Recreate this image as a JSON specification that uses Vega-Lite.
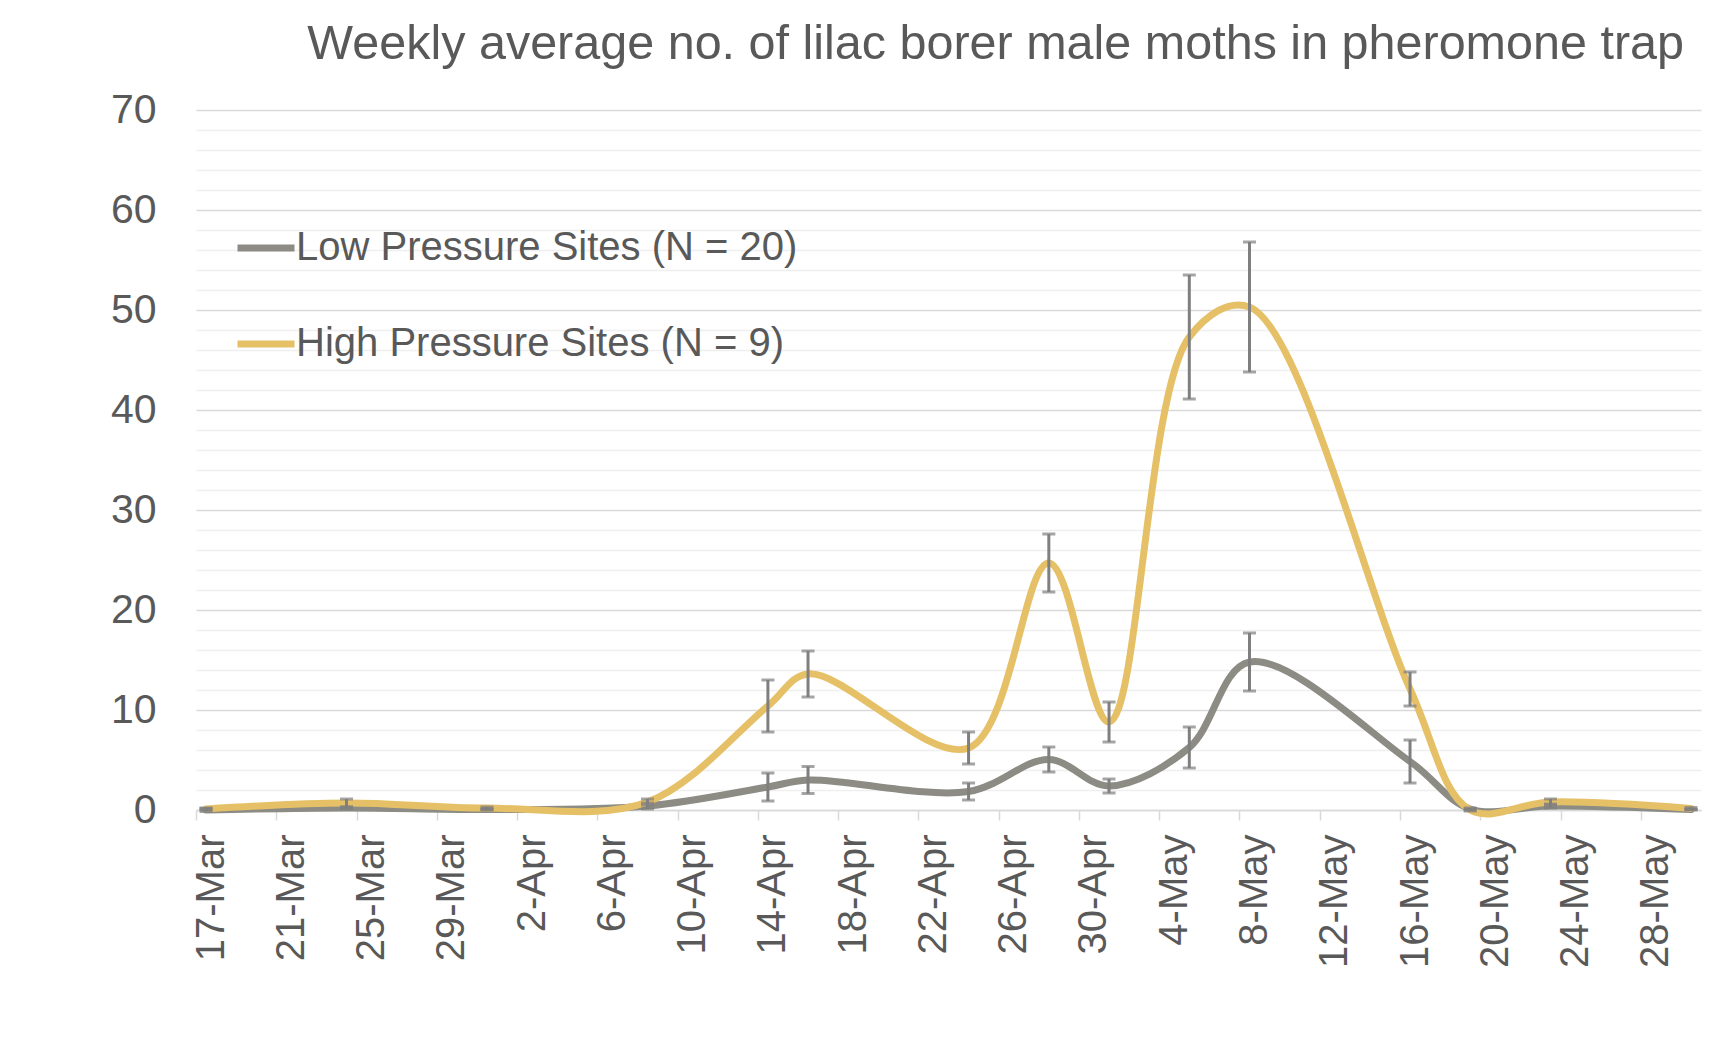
{
  "$schema": "https://vega.github.io/schema/vega-lite/v6.json",
  "autosize": {"type": "none"},
  "width": 1505,
  "height": 700,
  "padding": {"left": 196, "top": 110, "right": 30, "bottom": 228},
  "background": "white",
  "title": {
    "text": "Weekly average no. of lilac borer male moths in pheromone trap",
    "anchor": "end",
    "frame": "group",
    "orient": "top",
    "font": "Liberation Sans",
    "fontSize": 48.5,
    "fontWeight": "normal",
    "color": "#595959",
    "offset": 20,
    "dx": -17
  },
  "config": {
    "view": {"stroke": null},
    "font": "Liberation Sans"
  },
  "data": {
    "values": [
      {"date": "2021-03-17T12:00:00", "series": "Low Pressure Sites (N = 20)", "mean": 0.0, "se": 0.15},
      {"date": "2021-03-24T12:00:00", "series": "Low Pressure Sites (N = 20)", "mean": 0.2, "se": 0.1},
      {"date": "2021-03-31T12:00:00", "series": "Low Pressure Sites (N = 20)", "mean": 0.05, "se": 0.05},
      {"date": "2021-04-08T12:00:00", "series": "Low Pressure Sites (N = 20)", "mean": 0.4, "se": 0.3},
      {"date": "2021-04-14T12:00:00", "series": "Low Pressure Sites (N = 20)", "mean": 2.3, "se": 1.4},
      {"date": "2021-04-16T12:00:00", "series": "Low Pressure Sites (N = 20)", "mean": 3.0, "se": 1.35},
      {"date": "2021-04-24T12:00:00", "series": "Low Pressure Sites (N = 20)", "mean": 1.85, "se": 0.85},
      {"date": "2021-04-28T12:00:00", "series": "Low Pressure Sites (N = 20)", "mean": 5.05, "se": 1.25},
      {"date": "2021-05-01T12:00:00", "series": "Low Pressure Sites (N = 20)", "mean": 2.4, "se": 0.7},
      {"date": "2021-05-05T12:00:00", "series": "Low Pressure Sites (N = 20)", "mean": 6.25, "se": 2.05},
      {"date": "2021-05-08T12:00:00", "series": "Low Pressure Sites (N = 20)", "mean": 14.8, "se": 2.9},
      {"date": "2021-05-16T12:00:00", "series": "Low Pressure Sites (N = 20)", "mean": 4.85, "se": 2.15},
      {"date": "2021-05-19T12:00:00", "series": "Low Pressure Sites (N = 20)", "mean": 0.1, "se": 0.1},
      {"date": "2021-05-23T12:00:00", "series": "Low Pressure Sites (N = 20)", "mean": 0.4, "se": 0.2},
      {"date": "2021-05-30T12:00:00", "series": "Low Pressure Sites (N = 20)", "mean": 0.05, "se": 0.05},
      {"date": "2021-03-17T12:00:00", "series": "High Pressure Sites (N = 9)", "mean": 0.1, "se": 0.1},
      {"date": "2021-03-24T12:00:00", "series": "High Pressure Sites (N = 9)", "mean": 0.7, "se": 0.4},
      {"date": "2021-03-31T12:00:00", "series": "High Pressure Sites (N = 9)", "mean": 0.2, "se": 0.1},
      {"date": "2021-04-08T12:00:00", "series": "High Pressure Sites (N = 9)", "mean": 0.8, "se": 0.3},
      {"date": "2021-04-14T12:00:00", "series": "High Pressure Sites (N = 9)", "mean": 10.4, "se": 2.6},
      {"date": "2021-04-16T12:00:00", "series": "High Pressure Sites (N = 9)", "mean": 13.6, "se": 2.3},
      {"date": "2021-04-24T12:00:00", "series": "High Pressure Sites (N = 9)", "mean": 6.2, "se": 1.6},
      {"date": "2021-04-28T12:00:00", "series": "High Pressure Sites (N = 9)", "mean": 24.7, "se": 2.9},
      {"date": "2021-05-01T12:00:00", "series": "High Pressure Sites (N = 9)", "mean": 8.8, "se": 2.0},
      {"date": "2021-05-05T12:00:00", "series": "High Pressure Sites (N = 9)", "mean": 47.3, "se": 6.2},
      {"date": "2021-05-08T12:00:00", "series": "High Pressure Sites (N = 9)", "mean": 50.3, "se": 6.5},
      {"date": "2021-05-16T12:00:00", "series": "High Pressure Sites (N = 9)", "mean": 12.1, "se": 1.7},
      {"date": "2021-05-19T12:00:00", "series": "High Pressure Sites (N = 9)", "mean": 0.0, "se": 0.1},
      {"date": "2021-05-23T12:00:00", "series": "High Pressure Sites (N = 9)", "mean": 0.8, "se": 0.3},
      {"date": "2021-05-30T12:00:00", "series": "High Pressure Sites (N = 9)", "mean": 0.15, "se": 0.1}
    ]
  },
  "resolve": {"axis": {"y": "independent"}},
  "layer": [
    {
      "mark": {"type": "line", "interpolate": "catmull-rom", "strokeWidth": 7, "strokeCap": "round", "strokeJoin": "round"},
      "encoding": {
        "x": {
          "field": "date",
          "type": "temporal",
          "scale": {"domain": [{"year": 2021, "month": "mar", "date": 17}, {"year": 2021, "month": "may", "date": 31}]},
          "axis": {
            "title": null,
            "values": [
              {"year": 2021, "month": "mar", "date": 17},
              {"year": 2021, "month": "mar", "date": 21},
              {"year": 2021, "month": "mar", "date": 25},
              {"year": 2021, "month": "mar", "date": 29},
              {"year": 2021, "month": "apr", "date": 2},
              {"year": 2021, "month": "apr", "date": 6},
              {"year": 2021, "month": "apr", "date": 10},
              {"year": 2021, "month": "apr", "date": 14},
              {"year": 2021, "month": "apr", "date": 18},
              {"year": 2021, "month": "apr", "date": 22},
              {"year": 2021, "month": "apr", "date": 26},
              {"year": 2021, "month": "apr", "date": 30},
              {"year": 2021, "month": "may", "date": 4},
              {"year": 2021, "month": "may", "date": 8},
              {"year": 2021, "month": "may", "date": 12},
              {"year": 2021, "month": "may", "date": 16},
              {"year": 2021, "month": "may", "date": 20},
              {"year": 2021, "month": "may", "date": 24},
              {"year": 2021, "month": "may", "date": 28}
            ],
            "format": "%-d-%b",
            "labelAngle": -90,
            "labelAlign": "right",
            "labelBaseline": "top",
            "labelFont": "Liberation Sans",
            "labelFontSize": 40,
            "labelColor": "#595959",
            "labelPadding": 14,
            "labelOffset": -5,
            "labelOverlap": false,
            "labelFlush": false,
            "tickSize": 10,
            "tickColor": "#d9d9d9",
            "tickWidth": 1.5,
            "domainColor": "#d9d9d9",
            "domainWidth": 1.5,
            "grid": false
          }
        },
        "y": {
          "field": "mean",
          "type": "quantitative",
          "scale": {"domain": [0, 70], "nice": false},
          "axis": {
            "title": null,
            "orient": "left",
            "values": [0, 10, 20, 30, 40, 50, 60, 70],
            "grid": true,
            "gridColor": "#d9d9d9",
            "gridWidth": 1.5,
            "domain": false,
            "ticks": false,
            "labelFont": "Liberation Sans",
            "labelFontSize": 41,
            "labelColor": "#595959",
            "labelPadding": 40
          }
        },
        "color": {
          "field": "series",
          "type": "nominal",
          "sort": ["Low Pressure Sites (N = 20)", "High Pressure Sites (N = 9)"],
          "scale": {"domain": ["Low Pressure Sites (N = 20)", "High Pressure Sites (N = 9)"], "range": ["#8c8c84", "#e5c067"]},
          "legend": {
            "orient": "none",
            "legendX": 38,
            "legendY": 106,
            "title": null,
            "padding": 0,
            "labelFont": "Liberation Sans",
            "labelFontSize": 40,
            "labelColor": "#595959",
            "labelLimit": 0,
            "symbolType": "stroke",
            "symbolSize": 3249,
            "symbolStrokeWidth": 7,
            "rowPadding": 44,
            "labelOffset": -2
          }
        }
      }
    },
    {
      "mark": {
        "type": "errorbar",
        "color": "#7f7f7f",
        "ticks": {"size": 13, "thickness": 3, "color": "#7f7f7f"},
        "rule": {"strokeWidth": 3, "color": "#7f7f7f"}
      },
      "encoding": {
        "x": {"field": "date", "type": "temporal"},
        "y": {
          "field": "mean",
          "type": "quantitative",
          "axis": {
            "title": null,
            "orient": "left",
            "values": [2, 4, 6, 8, 12, 14, 16, 18, 22, 24, 26, 28, 32, 34, 36, 38, 42, 44, 46, 48, 52, 54, 56, 58, 62, 64, 66, 68],
            "grid": true,
            "gridColor": "#efefef",
            "gridWidth": 1.5,
            "domain": false,
            "ticks": false,
            "labels": false
          }
        },
        "yError": {"field": "se"}
      }
    }
  ]
}
